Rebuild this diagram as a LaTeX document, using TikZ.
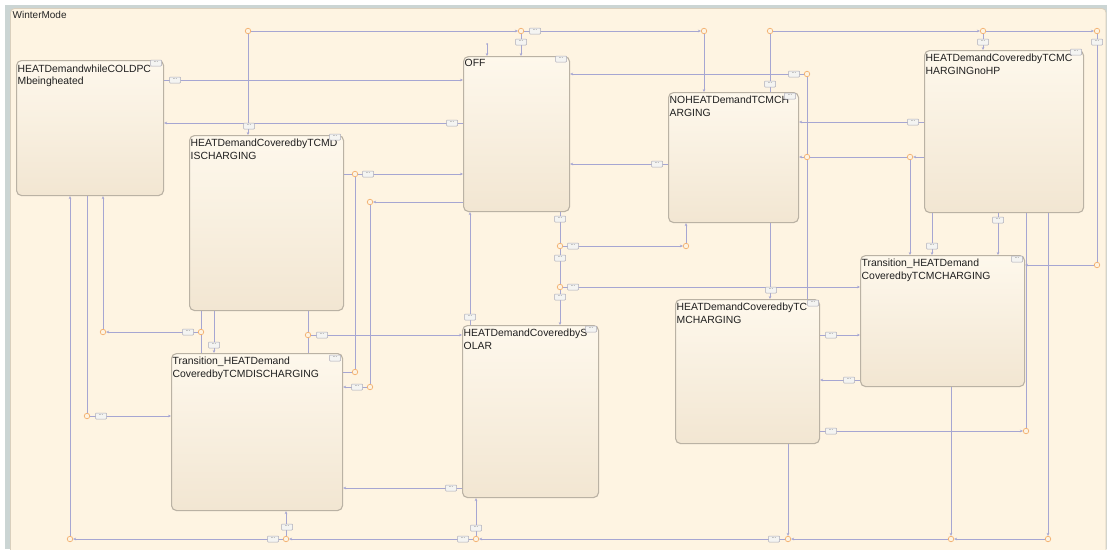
\documentclass[tikz,border=0pt]{standalone}
\usepackage{fontspec}
\setmainfont{Liberation Sans}
\usetikzlibrary{arrows.meta}

\definecolor{chartbg}{HTML}{FEF4E2}
\definecolor{stTop}{HTML}{FEF8EC}
\definecolor{stBot}{HTML}{F2E6D2}
\definecolor{stEdge}{HTML}{BAB2A4}
\definecolor{wire}{HTML}{A6A6D2}
\definecolor{jct}{HTML}{F2AE6C}
\definecolor{frameEdge}{HTML}{CBD5D4}
\definecolor{chartEdge}{HTML}{D9CFBD}
\definecolor{tagEdge}{HTML}{ABABB9}
\definecolor{tagFill}{HTML}{F4F4F2}

\tikzset{
  stbox/.style={draw=stEdge, line width=1.1pt, rounded corners=5pt,
    top color=stTop, bottom color=stBot, anchor=north west, inner sep=0pt},
  sttitle/.style={anchor=north west, align=left, inner sep=0pt,
    font=\fontsize{10.4}{12.4}\selectfont, text=black!88},
  jn/.style={circle, draw=jct, fill=chartbg, line width=0.7pt,
    minimum size=5.5pt, inner sep=0pt},
  tag/.style={draw=tagEdge, fill=tagFill, rounded corners=0.8pt, line width=0.5pt,
    minimum width=11pt, minimum height=6pt, inner sep=0pt,
    font=\fontsize{5}{5}\selectfont, text=black!80},
  ln/.style={draw=wire, line width=0.75pt},
  tr/.style={ln, -{Stealth[length=3pt,width=2.6pt]}},
}

\begin{document}
\begin{tikzpicture}[x=1pt, y=-1pt]
\useasboundingbox (0,0) rectangle (1107,549);
\clip (0,0) rectangle (1107,549);

% chart frame and the WinterMode superstate
\fill[white] (0,0) rectangle (1107,549);
\fill[frameEdge] (5,5) rectangle (1107,549);
\draw[draw=chartEdge, fill=chartbg, line width=0.8pt, rounded corners=4pt]
  (10.5,8.5) rectangle (1106,570);
\node[anchor=north west, inner sep=0pt, font=\fontsize{10}{12}\selectfont, text=black!85]
  (wm) at (12.5,11) {WinterMode};

% states
\node[stbox, minimum width=147pt, minimum height=135pt] (s1)   at (16,60)  {};
\node[stbox, minimum width=154pt, minimum height=175pt] (s2)   at (189,135) {};
\node[stbox, minimum width=106pt, minimum height=155pt] (off)  at (463,56)  {};
\node[stbox, minimum width=130pt, minimum height=130pt] (nh)   at (668,92)  {};
\node[stbox, minimum width=159pt, minimum height=162pt] (nohp) at (924,50)  {};
\node[stbox, minimum width=164pt, minimum height=131pt] (tc)   at (860,255) {};
\node[stbox, minimum width=144pt, minimum height=144pt] (ch)   at (675,299) {};
\node[stbox, minimum width=136pt, minimum height=172pt] (sol)  at (462,325) {};
\node[stbox, minimum width=171pt, minimum height=157pt] (td)   at (171,353) {};

% state titles
\node[sttitle] (s1t)   at (17.5,64.5)  {HEATDemandwhileCOLDPC\\Mbeingheated};
\node[sttitle] (s2t)   at (190.5,139)  {HEATDemandCoveredbyTCMD\\ISCHARGING};
\node[sttitle] (offt)  at (464.5,59.5) {OFF};
\node[sttitle] (nht)   at (669.5,96)   {NOHEATDemandTCMCH\\ARGING};
\node[sttitle] (nohpt) at (925.5,54)   {HEATDemandCoveredbyTCMC\\HARGINGnoHP};
\node[sttitle] (tct)   at (861.5,259)  {Transition\_HEATDemand\\CoveredbyTCMCHARGING};
\node[sttitle] (cht)   at (676.5,303)  {HEATDemandCoveredbyTC\\MCHARGING};
\node[sttitle] (solt)  at (463.5,329)  {HEATDemandCoveredbyS\\OLAR};
\node[sttitle] (tdt)   at (172.5,357)  {Transition\_HEATDemand\\CoveredbyTCMDISCHARGING};

% junctions
\node[jn] (jA)  at (248,31)  {};
\node[jn] (jB)  at (521,31)  {};
\node[jn] (jC)  at (704,31)  {};
\node[jn] (jD)  at (770,31)  {};
\node[jn] (jE)  at (983,31)  {};
\node[jn] (jF)  at (1097,31) {};
\node[jn] (jG)  at (807,74)  {};
\node[jn] (jH)  at (807,157) {};
\node[jn] (jI)  at (910,157) {};
\node[jn] (jJ)  at (355,174) {};
\node[jn] (jK)  at (370,202) {};
\node[jn] (jL)  at (560,246) {};
\node[jn] (jM)  at (686,246) {};
\node[jn] (jN)  at (560,287) {};
\node[jn] (jO)  at (103,332) {};
\node[jn] (jP)  at (201,332) {};
\node[jn] (jQ)  at (308,335) {};
\node[jn] (jR)  at (355,372) {};
\node[jn] (jS)  at (370,387) {};
\node[jn] (jT)  at (1097,265) {};
\node[jn] (jU)  at (87,416)  {};
\node[jn] (jV)  at (1026,431) {};
\node[jn] (jW)  at (70,539)  {};
\node[jn] (jX)  at (286,539) {};
\node[jn] (jY)  at (476,539) {};
\node[jn] (jZ)  at (788,539) {};
\node[jn] (jZb) at (951,539) {};
\node[jn] (jZc) at (1048,539) {};
\coordinate (d0) at (487,44);

% default transition into OFF
\fill[wire] (d0) circle (1pt);
\draw[tr] (d0) -- (off.north -| d0);

% top bus
\draw[tr] (jA) -- (s2.north -| jA);
\draw[tr] (jA) -- (jB);
\draw[tr] (jB) -- (jC);
\draw[tr] (jB) -- (off.north -| jB);
\draw[tr] (jC) -- (nh.north -| jC);
\draw[ln] (nh.north -| jD) -- (jD);
\draw[tr] (jD) -- (jE);
\draw[tr] (jE) -- (nohp.north -| jE);
\draw[tr] (jE) -- (jF);
\draw[ln] (jF) -- (jT);
\draw[tr] (jT) -- (tc.east |- jT);

% OFF and its neighbours
\draw[tr] (s1.east |- 0,80) -- (off.west |- 0,80);
\draw[tr] (off.west |- 0,123) -- (s1.east |- 0,123);
\draw[tr] (jG) -- (off.east |- jG);
\draw[ln] (ch.north -| jH) -- (jH);
\draw[ln] (jH) -- (jG);
\draw[tr] (jH) -- (nh.east |- jH);
\draw[tr] (nh.west |- 0,164) -- (off.east |- 0,164);
\draw[tr] (nohp.west |- 0,122) -- (nh.east |- 0,122);
\draw[tr] (nohp.west |- jI) -- (jI);
\draw[ln] (jI) -- (jH);
\draw[tr] (jI) -- (tc.north -| jI);
\draw[ln] (s2.east |- jJ) -- (jJ);
\draw[tr] (jJ) -- (off.west |- jJ);
\draw[ln] (td.east |- jR) -- (jR);
\draw[ln] (jR) -- (jJ);
\draw[tr] (off.west |- jK) -- (jK);
\draw[ln] (jK) -- (jS);
\draw[tr] (jS) -- (td.east |- jS);

% below OFF
\draw[ln] (off.south -| jL) -- (jL);
\draw[tr] (jL) -- (jM);
\draw[tr] (jM) -- (nh.south -| jM);
\draw[ln] (jL) -- (jN);
\draw[tr] (jN) -- (tc.west |- jN);
\draw[tr] (jN) -- (sol.north -| jN);
\draw[tr] (sol.north -| 470,0) -- (off.south -| 470,0);

% left group
\draw[ln] (s2.south -| jQ) -- (jQ);
\draw[ln] (td.north -| jQ) -- (jQ);
\draw[tr] (jQ) -- (sol.west |- jQ);
\draw[ln] (s2.south -| jP) -- (jP);
\draw[ln] (td.north -| jP) -- (jP);
\draw[tr] (jP) -- (jO);
\draw[tr] (jO) -- (s1.south -| jO);
\draw[tr] (s2.south -| 214,0) -- (td.north -| 214,0);
\draw[tr] (jW) -- (s1.south -| jW);
\draw[ln] (s1.south -| jU) -- (jU);
\draw[tr] (jU) -- (td.west |- jU);
\draw[tr] (sol.west |- 0,488) -- (td.east |- 0,488);

% bottom bus
\draw[tr] (jX) -- (td.south -| jX);
\draw[tr] (jX) -- (jW);
\draw[tr] (jY) -- (jX);
\draw[tr] (jY) -- (sol.south -| jY);
\draw[tr] (jZ) -- (jY);
\draw[tr] (ch.south -| jZ) -- (jZ);
\draw[tr] (jZb) -- (jZ);
\draw[tr] (tc.south -| jZb) -- (jZb);
\draw[tr] (jZc) -- (jZb);
\draw[tr] (nohp.south -| jZc) -- (jZc);

% right group
\draw[tr] (tc.west |- 0,380) -- (ch.east |- 0,380);
\draw[tr] (ch.east |- 0,335) -- (tc.west |- 0,335);
\draw[tr] (ch.east |- jV) -- (jV);
\draw[ln] (jV) -- (nohp.south -| jV);
\draw[tr] (nh.south -| 770,0) -- (ch.north -| 770,0);
\draw[tr] (nohp.south -| 932,0) -- (tc.north -| 932,0);
\draw[tr] (nohp.south -| 998,0) -- (tc.north -| 998,0);

% transition and state tags
\foreach \p [count=\i] in {(521,42),(535,31),(770,84),(983,42),(1097,42),(794,74),
  (913,122),(657,164),(452,123),(175,80),(249,126),(368,174),(357,387),
  (560,219),(573,246),(560,258),(573,287),(560,297),(470,317),(322,335),
  (188,332),(214,345),(101,416),(451,488),(287,527),(273,539),(476,528),
  (463,539),(774,539),(849,380),(831,335),(831,431),(771,290),(932,246),(998,220),
  (156,63),(335,137),(561,59),(790,96),(1076,52),(1017,259),(813,303),(591,329),(335,358)}
  \node[tag] (tag\i) at \p {···};

\end{tikzpicture}
\end{document}
